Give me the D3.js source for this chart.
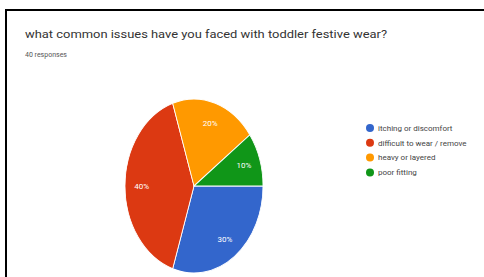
<!DOCTYPE html>
<html>
<head>
<meta charset="utf-8">
<script src="https://cdn.jsdelivr.net/npm/d3@7"></script>
<style>
body{margin:0;background:#fff;}
svg{display:block;font-family:Roboto,Arial,sans-serif;}
</style>
</head>
<body>
<svg id="chart" width="484" height="277"></svg>
<script>
// answers and their share of the 40 responses
const labels=['itching or discomfort','difficult to wear / remove','heavy or layered','poor fitting'];
const values=[30,40,20,10];
const colors=['#3366cc','#dc3912','#ff9900','#109618'];

const title='what common issues have  you faced with toddler festive wear?';
const subtitle='40 responses';

const svg=d3.select('#chart');

// frame lines of the screenshot
svg.append('line').attr('x1',5).attr('x2',484).attr('y1',10).attr('y2',10)
    .attr('stroke','#000').attr('stroke-width',2);
svg.append('line').attr('x1',6).attr('x2',6).attr('y1',9).attr('y2',277)
    .attr('stroke','#000').attr('stroke-width',2);

svg.append('text').attr('x',25).attr('y',38)
    .attr('font-size',11).attr('fill','#333')
    .attr('textLength',362).attr('lengthAdjust','spacingAndGlyphs')
    .text(title);
svg.append('text').attr('x',25).attr('y',57)
    .attr('font-size',7).attr('fill','#555')
    .text(subtitle);

//pie is squashed in the picture so draw on a circle and stretch it
const rx=69, ry=87;
const pie=d3.pie().sort(null).startAngle(Math.PI/2).endAngle(Math.PI/2+2*Math.PI);
const arcs=pie(values);
const arc=d3.arc().innerRadius(0).outerRadius(rx);
const labelArc=d3.arc().innerRadius(rx*0.76).outerRadius(rx*0.76);

const g=svg.append('g').attr('transform','translate(194,186) scale(1,'+(ry/rx)+')');
g.selectAll('path').data(arcs).enter().append('path')
    .attr('d',arc)
    .attr('fill',(d,i)=>colors[i])
    .attr('stroke','#fff').attr('stroke-width',0.8);

svg.append('g').attr('transform','translate(194,186)')
    .selectAll('text').data(arcs).enter().append('text')
    .attr('x',d=>labelArc.centroid(d)[0])
    .attr('y',d=>labelArc.centroid(d)[1]*ry/rx)
    .attr('dy','0.35em')
    .attr('text-anchor','middle')
    .attr('font-size',8).attr('fill','#fff')
    .text(d=>d.data+'%');

// legend
const legend=svg.append('g').attr('transform','translate(370,128)');
const item=legend.selectAll('g').data(labels).enter().append('g')
    .attr('transform',(d,i)=>'translate(0,'+(i*14.8)+')');
item.append('circle').attr('r',4).attr('fill',(d,i)=>colors[i]);
item.append('text').attr('x',8).attr('dy','0.35em')
    .attr('font-size',8).attr('fill','#444')
    .text(d=>d);
</script>
</body>
</html>
